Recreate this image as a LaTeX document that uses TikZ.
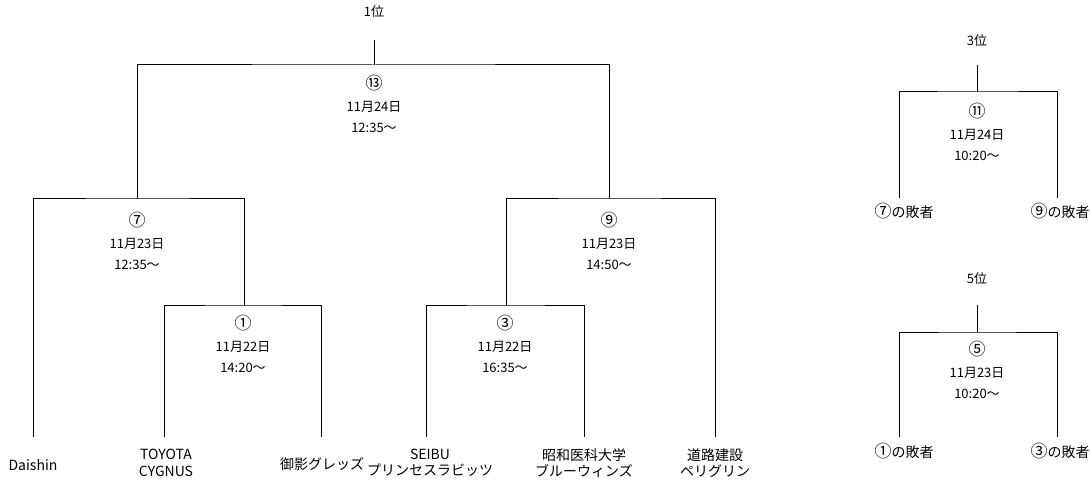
\documentclass[tikz,border=0pt]{standalone}
\usepackage{fontspec}
\setmainfont{Noto Sans CJK JP}
\newcommand\maru[1]{{\fontsize{17}{17}\selectfont #1}}

\begin{document}
\begin{tikzpicture}[x=1pt,y=-1pt,line width=1pt,
    every node/.style={inner sep=0pt,align=center,font=\fontsize{14}{16.5}\selectfont},
    match/.style={font=\fontsize{13}{21.5}\selectfont},
    rank/.style={font=\fontsize{13}{15}\selectfont}]
    \useasboundingbox (0,0) rectangle (1090,484);
    %main
    \node[rank] (p1) at (374,12) {1位};
    \coordinate (s1) at (374,40);
    \coordinate (j13) at (374,65);
    \coordinate (j7) at (137,198);
    \coordinate (j9) at (609,198);
    \coordinate (j1) at (244,305);
    \coordinate (j3) at (506,305);
    \coordinate (e1) at (33,437);
    \coordinate (e2) at (164,437);
    \coordinate (e3) at (321,437);
    \coordinate (e4) at (426,437);
    \coordinate (e5) at (584,437);
    \coordinate (e6) at (715,437);
    \node[match] (m13) at (374,104) {\maru{⑬}\\11月24日\\12:35〜};
    \node[match] (m7) at (137,241) {\maru{⑦}\\11月23日\\12:35〜};
    \node[match] (m9) at (609,241) {\maru{⑨}\\11月23日\\14:50〜};
    \node[match] (m1) at (243,344) {\maru{①}\\11月22日\\14:20〜};
    \node[match] (m3) at (505,344) {\maru{③}\\11月22日\\16:35〜};
    \node (daishin) at (33,465) {Daishin};
    \node (toyota) at (166,463) {TOYOTA\\CYGNUS};
    \node (mikage) at (322,464) {御影グレッズ};
    \node (seibu) at (430,463) {SEIBU\\プリンセスラビッツ};
    \node (showa) at (584,463) {昭和医科大学\\ブルーウィンズ};
    \node (doro) at (715,463) {道路建設\\ペリグリン};
    \draw (s1) -- (j13);
    \draw (j7) |- (j13) -| (j9);
    \draw (e1) |- (j7) -| (j1);
    \draw (e2) |- (j1) -| (e3);
    \draw (j3) |- (j9) -| (e6);
    \draw (e4) |- (j3) -| (e5);
    %3rd
    \node[rank] (p3) at (977,41) {3位};
    \coordinate (s3) at (977,65);
    \coordinate (j11) at (977,92);
    \coordinate (e7) at (899,198);
    \coordinate (e8) at (1057,198);
    \node[match] (m11) at (977,132) {\maru{⑪}\\11月24日\\10:20〜};
    \node (l7) at (904,211) {\maru{⑦}の敗者};
    \node (l9) at (1060,211) {\maru{⑨}の敗者};
    \draw (s3) -- (j11);
    \draw (e7) |- (j11) -| (e8);
    %5th
    \node[rank] (p5) at (977,279) {5位};
    \coordinate (s5) at (977,305);
    \coordinate (j5) at (977,332);
    \coordinate (e9) at (899,437);
    \coordinate (e10) at (1057,437);
    \node[match] (m5) at (977,370) {\maru{⑤}\\11月23日\\10:20〜};
    \node (l1) at (904,451) {\maru{①}の敗者};
    \node (l3) at (1060,451) {\maru{③}の敗者};
    \draw (s5) -- (j5);
    \draw (e9) |- (j5) -| (e10);
\end{tikzpicture}
\end{document}
